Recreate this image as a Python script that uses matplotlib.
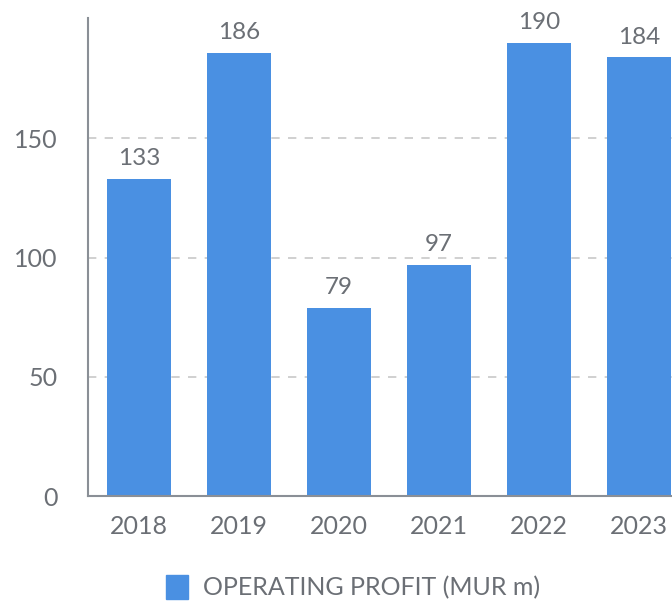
import matplotlib.pyplot as plt
from matplotlib.patches import Patch

years = ['2018', '2019', '2020', '2021', '2022', '2023']
profit = [133, 186, 79, 97, 190, 184]
yticks = [0, 50, 100, 150]

blue = '#4A90E2'
txt = '#6b6f75'

plt.rcParams['font.family'] = ['Lato', 'DejaVu Sans']

fig = plt.figure(figsize=(6.72, 6.07), dpi=100)
# axes runs off the right edge, like the cropped original
ax = fig.add_axes([88/672, 111/607, 602/672, 478/607])

x = range(len(years))
bars = ax.bar(x, profit, width=0.64, color=blue, zorder=2)
for b, v in zip(bars, profit):
    ax.text(b.get_x() + b.get_width()/2, v + 4, str(v), ha='center', va='bottom',
            fontsize=17.5, color=txt)

ax.set_xlim(-0.51, 5.51)
ax.set_ylim(0, 200.5)
ax.set_xticks(list(x))
ax.set_xticklabels(years)
ax.set_yticks(yticks)
ax.tick_params(axis='both', length=0, labelsize=18, labelcolor=txt)
ax.tick_params(axis='x', pad=14)
ax.tick_params(axis='y', pad=22)

ax.yaxis.grid(True, linestyle=(0, (5, 5)), color='#c8c8c8', linewidth=1.2, zorder=0)
for s in ['top', 'right']:
    ax.spines[s].set_visible(False)
for s in ['left', 'bottom']:
    ax.spines[s].set_color('#8a8f96')
    ax.spines[s].set_linewidth(1.5)

handle = Patch(facecolor=blue, edgecolor=blue)
fig.legend(handles=[handle], labels=['OPERATING PROFIT (MUR m)'], loc='center',
           bbox_to_anchor=(353/672, 1 - 587/607), frameon=False, fontsize=18,
           labelcolor=txt, handlelength=0.85, handleheight=1.1, handletextpad=0.6)

fig.savefig('out.png', dpi=100)
